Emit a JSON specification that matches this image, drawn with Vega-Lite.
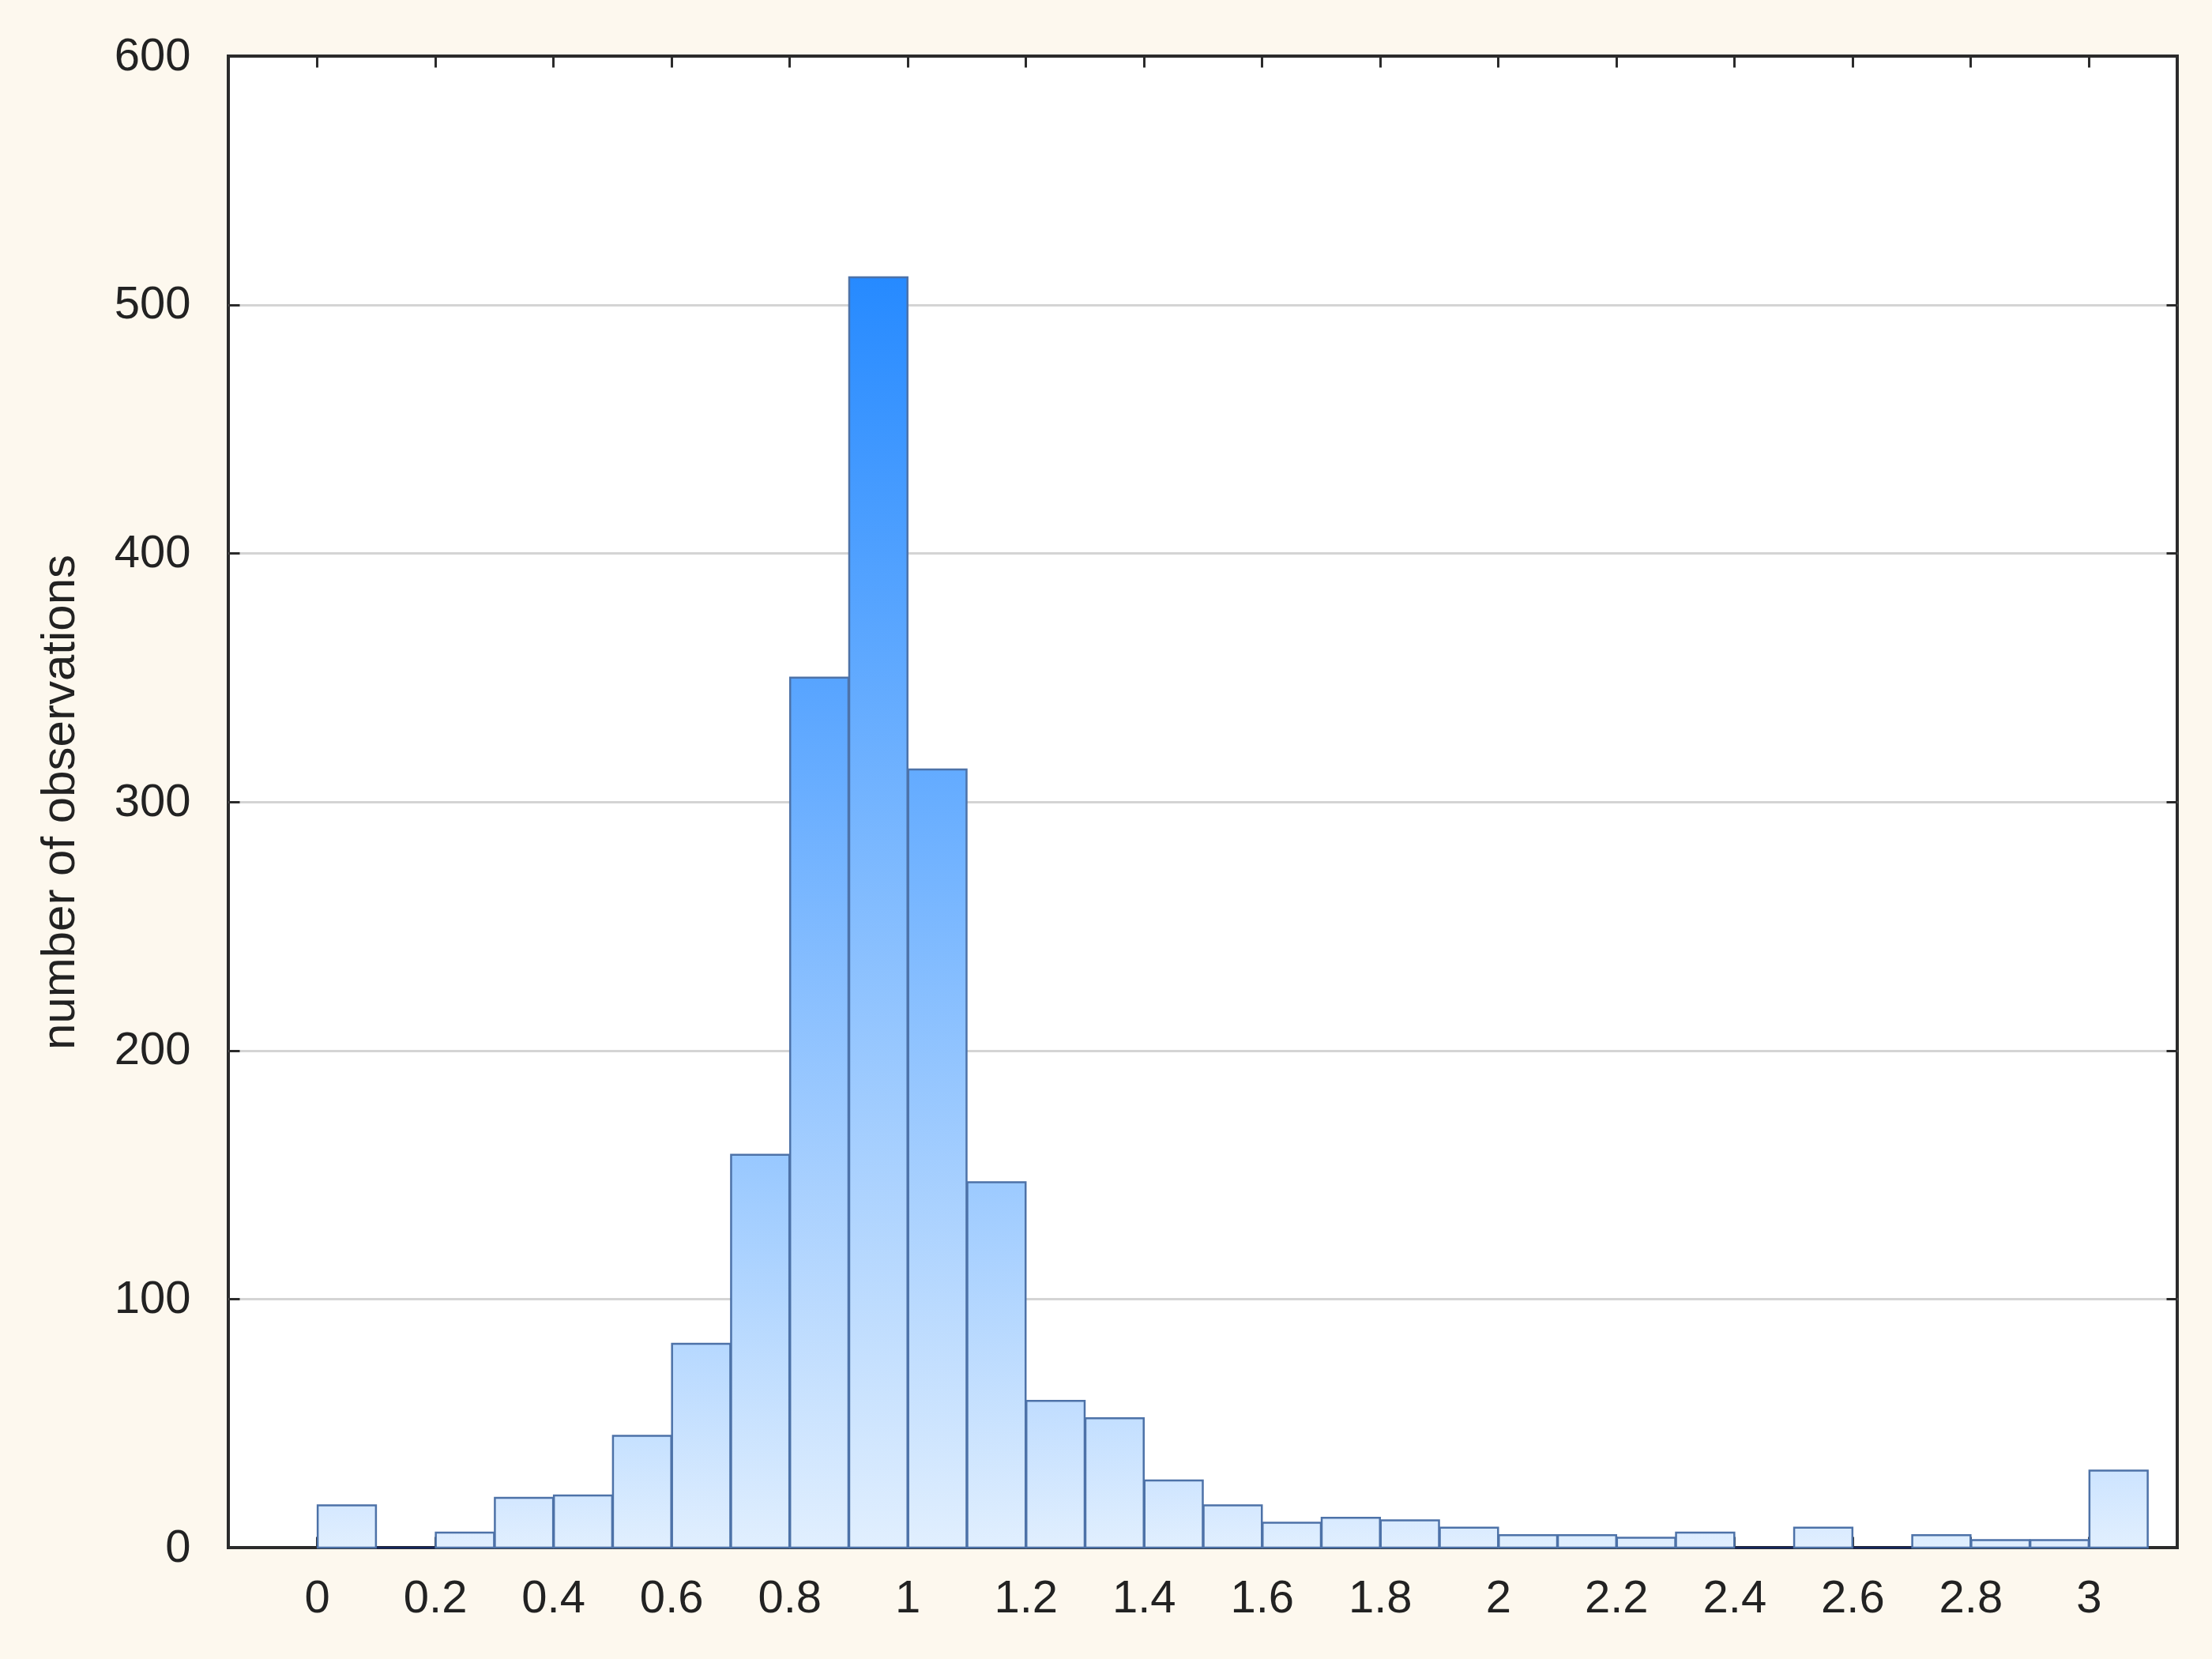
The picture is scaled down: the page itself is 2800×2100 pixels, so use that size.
{
  "$schema": "https://vega.github.io/schema/vega-lite/v6.json",
  "autosize": "none",
  "width": 2467,
  "height": 1888,
  "padding": {"left": 289, "top": 71, "right": 44, "bottom": 141},
  "background": "#fdf8ee",
  "view": {"fill": "white", "stroke": "#2b2b2b", "strokeWidth": 4},
  "config": {
    "font": "Liberation Sans",
    "axis": {
      "labelFont": "Liberation Sans",
      "titleFont": "Liberation Sans",
      "labelFontSize": 58,
      "titleFontSize": 60,
      "labelColor": "#222222",
      "titleColor": "#222222",
      "titleFontWeight": "normal",
      "domain": false,
      "tickColor": "#2b2b2b",
      "tickWidth": 3,
      "tickSize": -14,
      "gridColor": "#d4d4d4",
      "gridWidth": 3
    }
  },
  "data": {
    "values": [
      {"bin_start": 0.0, "bin_end": 0.1, "count": 17},
      {"bin_start": 0.1, "bin_end": 0.2, "count": 0},
      {"bin_start": 0.2, "bin_end": 0.3, "count": 6},
      {"bin_start": 0.3, "bin_end": 0.4, "count": 20},
      {"bin_start": 0.4, "bin_end": 0.5, "count": 21},
      {"bin_start": 0.5, "bin_end": 0.6, "count": 45},
      {"bin_start": 0.6, "bin_end": 0.7, "count": 82},
      {"bin_start": 0.7, "bin_end": 0.8, "count": 158},
      {"bin_start": 0.8, "bin_end": 0.9, "count": 350},
      {"bin_start": 0.9, "bin_end": 1.0, "count": 511},
      {"bin_start": 1.0, "bin_end": 1.1, "count": 313},
      {"bin_start": 1.1, "bin_end": 1.2, "count": 147},
      {"bin_start": 1.2, "bin_end": 1.3, "count": 59},
      {"bin_start": 1.3, "bin_end": 1.4, "count": 52},
      {"bin_start": 1.4, "bin_end": 1.5, "count": 27},
      {"bin_start": 1.5, "bin_end": 1.6, "count": 17},
      {"bin_start": 1.6, "bin_end": 1.7, "count": 10},
      {"bin_start": 1.7, "bin_end": 1.8, "count": 12},
      {"bin_start": 1.8, "bin_end": 1.9, "count": 11},
      {"bin_start": 1.9, "bin_end": 2.0, "count": 8},
      {"bin_start": 2.0, "bin_end": 2.1, "count": 5},
      {"bin_start": 2.1, "bin_end": 2.2, "count": 5},
      {"bin_start": 2.2, "bin_end": 2.3, "count": 4},
      {"bin_start": 2.3, "bin_end": 2.4, "count": 6},
      {"bin_start": 2.4, "bin_end": 2.5, "count": 0},
      {"bin_start": 2.5, "bin_end": 2.6, "count": 8},
      {"bin_start": 2.6, "bin_end": 2.7, "count": 0},
      {"bin_start": 2.7, "bin_end": 2.8, "count": 5},
      {"bin_start": 2.8, "bin_end": 2.9, "count": 3},
      {"bin_start": 2.9, "bin_end": 3.0, "count": 3},
      {"bin_start": 3.0, "bin_end": 3.1, "count": 31}
    ]
  },
  "layer": [
    {
      "mark": {
        "type": "bar",
        "strokeWidth": 2.5,
        "stroke": {"expr": "datum.count == 0 ? '#14275e' : '#4d72a8'"},
        "fill": {"expr": "{gradient: 'linear', x1: 0, y1: 1, x2: 0, y2: 0, stops: [{offset: 0, color: '#e1effe'}, {offset: 1, color: 'rgb(' + round(225 - 187 * pow(datum.count / 512, 0.8)) + ',' + round(239 - 101 * pow(datum.count / 512, 0.8)) + ',255)'}]}"}
      },
      "encoding": {
        "x": {
          "field": "bin_start",
          "type": "quantitative",
          "bin": {"binned": true, "step": 0.1},
          "scale": {"domain": [-0.15, 3.15], "nice": false, "zero": false},
          "axis": {
            "orient": "bottom",
            "title": null,
            "values": [0, 0.2, 0.4, 0.6, 0.8, 1, 1.2, 1.4, 1.6, 1.8, 2, 2.2, 2.4, 2.6, 2.8, 3],
            "format": "~g",
            "grid": false,
            "labelPadding": 49
          }
        },
        "x2": {"field": "bin_end"},
        "y": {
          "field": "count",
          "type": "quantitative",
          "scale": {"domain": [0, 600], "nice": false},
          "axis": {
            "orient": "left",
            "title": "number of observations",
            "values": [0, 100, 200, 300, 400, 500, 600],
            "grid": true,
            "gridOpacity": {"condition": {"test": "datum.value == 0 || datum.value == 600", "value": 0}, "value": 1},
            "labelPadding": 62,
            "titleX": -214,
            "titleY": 944,
            "titleBaseline": "middle",
            "titleAngle": -90
          }
        },
        "y2": {"datum": 0}
      }
    },
    {
      "mark": {"type": "bar", "opacity": 0},
      "encoding": {
        "x": {
          "field": "bin_start",
          "type": "quantitative",
          "bin": {"binned": true, "step": 0.1},
          "axis": {
            "orient": "top",
            "title": null,
            "labels": false,
            "grid": false,
            "values": [0, 0.2, 0.4, 0.6, 0.8, 1, 1.2, 1.4, 1.6, 1.8, 2, 2.2, 2.4, 2.6, 2.8, 3]
          }
        },
        "x2": {"field": "bin_end"},
        "y": {
          "field": "count",
          "type": "quantitative",
          "axis": {
            "orient": "right",
            "title": null,
            "labels": false,
            "grid": false,
            "values": [0, 100, 200, 300, 400, 500, 600]
          }
        },
        "y2": {"datum": 0}
      }
    }
  ],
  "resolve": {"axis": {"x": "independent", "y": "independent"}}
}
